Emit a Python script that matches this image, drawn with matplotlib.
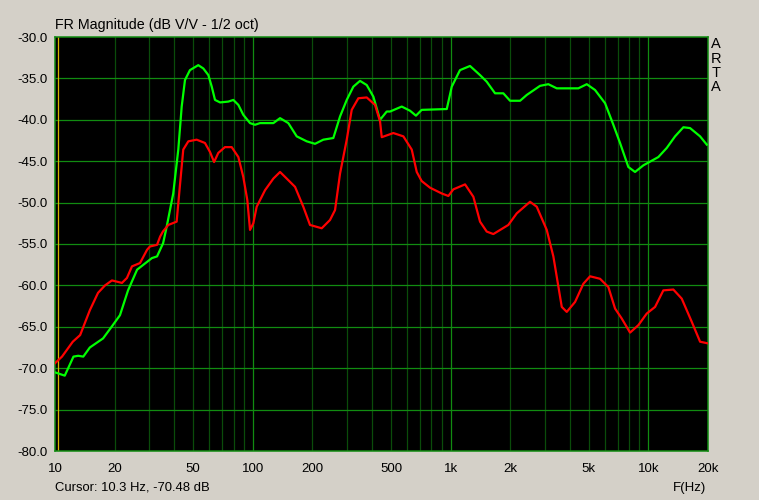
import matplotlib
matplotlib.use("Agg")
import matplotlib.pyplot as plt
import numpy as np

# ---- data ----
green_f = [10.0, 11.2, 12.4, 13.1, 13.9, 15.0, 17.5, 19.6, 21.3, 23.4, 26.0, 30.9, 32.8, 35.2,
           36.7, 39.6, 42.0, 43.7, 45.4, 48.1, 53.0, 56.2, 59.6, 62.0, 64.4, 68.3, 75.2, 79.7,
           84.5, 89.5, 96.8, 102.6, 108.7, 127, 137.3, 151.2, 166.7, 187.3, 206.3, 227.2, 255.3,
           276.0, 298.4, 322.2, 348.3, 376.5, 406.7, 439.7, 475.3, 494, 566, 623, 668, 714, 956,
           1013, 1115, 1253, 1408, 1522, 1677, 1847, 1997, 2244, 2425, 2831, 3119, 3440, 4422,
           4877, 5370, 6036, 6645, 7185, 7914, 8555, 9424, 11220, 12373, 13630, 15017, 16232,
           18239, 19720]
green_db = [-70.5, -70.9, -68.6, -68.5, -68.6, -67.5, -66.4, -64.8, -63.6, -60.6, -58.1, -56.7,
            -56.5, -54.9, -52.9, -48.9, -43.6, -38.4, -35.2, -34.0, -33.4, -33.8, -34.6, -36.0,
            -37.6, -37.9, -37.8, -37.6, -38.2, -39.4, -40.4, -40.6, -40.4, -40.4, -39.8, -40.4,
            -42.0, -42.6, -42.9, -42.4, -42.2, -39.6, -37.6, -36.0, -35.3, -35.8, -37.2, -40.0,
            -39.0, -39.0, -38.4, -38.9, -39.5, -38.8, -38.7, -36.0, -34.0, -33.5, -34.6, -35.4,
            -36.8, -36.8, -37.7, -37.7, -37.0, -35.9, -35.7, -36.2, -36.2, -35.7, -36.4, -38.0,
            -40.6, -42.8, -45.7, -46.3, -45.5, -44.5, -43.4, -42.0, -40.9, -41.0, -42.0, -43.0]

red_f = [10.0, 10.85, 12.3, 13.4, 15.0, 16.5, 17.9, 19.4, 21.8, 23.1, 24.5, 26.9, 29.2, 30.2,
         32.8, 34.0, 35.1, 37.4, 41.2, 42.9, 44.5, 47.2, 52.0, 57.3, 60.8, 63.7, 66.9, 72.3,
         78.2, 84.5, 89.5, 93.8, 96.8, 100.6, 104.6, 115.3, 127, 137.3, 148.4, 163.5, 180.0,
         194.6, 223.0, 245.6, 260.4, 276.0, 298.4, 316.2, 341.6, 376.5, 414.8, 439.7, 448.5,
         513.2, 576.8, 636, 674, 714, 787, 902, 974, 1032, 1183, 1303, 1408, 1522, 1644, 1957,
         2159, 2520, 2725, 3061, 3306, 3646, 3864, 4256, 4688, 5068, 5692, 6271, 6780, 7328,
         8072, 8892, 9804, 10800, 11894, 13363, 14733, 16556, 18239, 19950]
red_db = [-69.4, -68.6, -66.8, -66.0, -63.0, -60.9, -60.0, -59.4, -59.7, -59.1, -57.7, -57.3,
          -55.7, -55.3, -55.1, -54.1, -53.5, -52.7, -52.3, -47.7, -43.6, -42.6, -42.4, -42.8,
          -43.9, -45.1, -44.0, -43.3, -43.3, -44.5, -46.9, -49.7, -53.3, -52.5, -50.5, -48.5,
          -47.1, -46.3, -47.1, -48.1, -50.5, -52.7, -53.1, -52.1, -50.9, -46.5, -42.4, -38.8,
          -37.4, -37.3, -38.2, -40.2, -42.1, -41.6, -42.0, -43.6, -46.3, -47.4, -48.2, -48.9,
          -49.2, -48.4, -47.8, -49.3, -52.3, -53.5, -53.8, -52.7, -51.3, -49.9, -50.5, -53.3,
          -56.5, -62.6, -63.2, -62.0, -59.8, -58.9, -59.2, -60.2, -62.8, -64.0, -65.7, -64.8,
          -63.4, -62.6, -60.6, -60.5, -61.6, -64.4, -66.8, -67.0]

x_ticks = [10, 20, 50, 100, 200, 500, 1000, 2000, 5000, 10000, 20000]
x_tick_labels = ["10", "20", "50", "100", "200", "500", "1k", "2k", "5k", "10k", "20k"]
y_ticks = [-30, -35, -40, -45, -50, -55, -60, -65, -70, -75, -80]
cursor_f = 10.3

title = "FR Magnitude (dB V/V - 1/2 oct)"
cursor_text = "Cursor: 10.3 Hz, -70.48 dB"

# ---- figure ----
plt.rcParams['font.family'] = ['Liberation Sans', 'DejaVu Sans']
BG = "#D4D0C8"
W, H = 759, 500
fig = plt.figure(figsize=(W / 100, H / 100), dpi=100, facecolor=BG)
L, R, T, B = 55, 708, 37, 451
ax = fig.add_axes([L / W, 1 - B / H, (R - L) / W, (B - T) / H])
ax.set_facecolor("black")
ax.set_xscale("log")
ax.set_xlim(10, 20000)
ax.set_ylim(-80, -30)

major_grid = "#118C11"
minor_grid = "#0A4C0A"
# vertical grid lines
for dec in [10, 100, 1000, 10000]:
    for m in range(1, 10):
        f = dec * m
        if f <= 10 or f >= 20000:
            continue
        col = major_grid if m == 1 else minor_grid
        ax.axvline(f, color=col, lw=0.9, zorder=1)
for yv in y_ticks[1:-1]:
    ax.axhline(yv, color=major_grid, lw=0.9, zorder=1)

ax.axvline(cursor_f, color="#D8B400", lw=0.9, zorder=2)

ax.plot(green_f, green_db, color="#00FF00", lw=1.6, zorder=3)
ax.plot(red_f, red_db, color="#FF0000", lw=1.6, zorder=4)

for s in ax.spines.values():
    s.set_color("#118C11")
    s.set_linewidth(1.1)

ax.set_xticks(x_ticks)
ax.set_xticklabels(x_tick_labels)
ax.xaxis.set_minor_locator(matplotlib.ticker.NullLocator())
ax.set_yticks(y_ticks)
ax.set_yticklabels([f"{v:.1f}" for v in y_ticks])
ax.tick_params(axis="both", length=0, labelsize=9.5, colors="black")
ax.tick_params(axis="x", pad=9)
ax.tick_params(axis="y", pad=5)

fig.text(L / W, 1 - 25 / H, title, fontsize=10.3, ha="left", va="center")
fig.text(L / W, 1 - 488 / H, cursor_text, fontsize=9.4, ha="left", va="center")
fig.text(706 / W, 1 - 488 / H, "F(Hz)", fontsize=9.5, ha="right", va="center")
for i, ch in enumerate("ARTA"):
    fig.text(716 / W, 1 - (44.5 + i * 14.3) / H, ch, fontsize=10.5, ha="center", va="center")

fig.savefig("out.png", dpi=100, facecolor=BG)
